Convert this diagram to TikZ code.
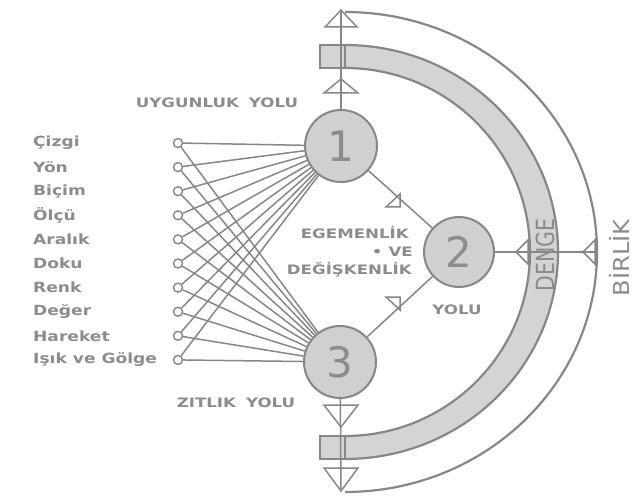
\documentclass[tikz,border=0pt]{standalone}
\usepackage{fontspec}
\newfontfamily\wfont{DejaVu Sans}[FakeStretch=1.28]
\newfontfamily\lfont{DejaVu Sans}[FakeStretch=1.22]
\newfontfamily\nfont{DejaVu Sans}
\definecolor{lg}{RGB}{135,135,135}
\definecolor{tg}{RGB}{140,140,140}
\definecolor{bf}{RGB}{212,212,212}
\definecolor{cf}{RGB}{208,208,208}
\begin{document}
\begin{tikzpicture}[x=1pt,y=-1pt,
  conn/.style={draw=lg, line width=1.5pt},
  arcline/.style={draw=lg, line width=2.2pt},
  bignode/.style={circle, draw=lg, line width=2pt, fill=cf, minimum size=72pt, inner sep=0pt, text=tg, font=\nfont\fontsize{42}{42}\selectfont},
  dotnode/.style={circle, draw=lg, line width=1.4pt, fill=white, minimum size=9pt, inner sep=0pt},
  labtext/.style={anchor=west, text=tg, inner sep=0pt, font=\lfont\bfseries\fontsize{14}{16}\selectfont},
  captext/.style={text=tg, inner sep=0pt, font=\wfont\bfseries\fontsize{13}{15}\selectfont},
  bigtext/.style={text=tg, inner sep=0pt, rotate=90, font=\nfont\fontsize{25}{25}\selectfont},
  trimark/.style={draw=lg, line width=1.5pt, line join=miter},
  boxst/.style={draw=lg, line width=1.8pt, fill=bf},
]
\useasboundingbox (0,0) rectangle (635,500);
\fill[white] (0,0) rectangle (635,500);
% band DENGE
\fill[bf] (345,45) arc[start angle=90,end angle=-90,x radius=213pt,y radius=207pt]
  -- (345,436) arc[start angle=-90,end angle=90,x radius=185pt,y radius=184pt] -- cycle;
\draw[arcline] (345,45) arc[start angle=90,end angle=-90,x radius=213pt,y radius=207pt];
\draw[arcline] (345,68) arc[start angle=90,end angle=-90,x radius=185pt,y radius=184pt];
% outer arc BIRLIK
\draw[arcline] (345,12) arc[start angle=90,end angle=-90,x radius=252pt,y radius=240pt];
\coordinate (arcE) at (597,252);
\coordinate (topC) at (341,10);
\coordinate (botC) at (341,491);
% band end boxes
\draw[boxst] (320,45) rectangle (345,68);
\draw[boxst] (320,436) rectangle (345,459);
% main nodes
\node[bignode] (n1) at (341,146) {1};
\node[bignode, minimum size=70pt] (n2) at (459,252) {2};
\node[bignode] (n3) at (340,362) {3};
% list
\foreach \t [count=\i, evaluate=\i as \yy using 143+24.1*(\i-1)] in {Çizgi,Yön,Biçim,Ölçü,Aralık,Doku,Renk,Değer,Hareket,Işık ve Gölge}{
  \node[labtext] (l\i) at (33,\yy) {\t};
  \node[dotnode] (s\i) at (178,\yy) {};
}
\foreach \i in {1,...,10}{
  \draw[conn] (s\i) -- (n1);
  \draw[conn] (s\i) -- (n3);
}
% connectors between main nodes
\draw[conn] (n1) -- (n2);
\draw[conn] (n2) -- (n3);
\draw[conn] (n2) -- (arcE);
\draw[conn] (n1) -- (topC);
\draw[conn] (n3) -- (botC);
% markers
\draw[trimark] (341,10) -- (357,27) -- (325,27) -- cycle;
\draw[trimark] (341,79) -- (358,93) -- (324,93) -- cycle;
\draw[trimark] (324,405) -- (358,405) -- (341,427) -- cycle;
\draw[trimark] (324,468) -- (358,468) -- (341,491) -- cycle;
\draw[trimark] (386,207) -- (400,207) -- (400,194) -- cycle;
\draw[trimark] (386,297) -- (400,297) -- (400,310) -- cycle;
\draw[trimark] (516,252) -- (528,240) -- (528,264) -- cycle;
\draw[trimark] (583,252) -- (595,240) -- (595,264) -- cycle;
% texts
\node[captext] (t1) at (217,103) {UYGUNLUK\hspace{10pt}YOLU};
\node[captext] (t2) at (236,403) {ZITLIK\hspace{10pt}YOLU};
\node[captext, anchor=east] (t3) at (409,233) {EGEMENLİK};
\node[captext, anchor=east] (t4) at (413,252) {•\hspace{6pt}VE};
\node[captext, anchor=east] (t5) at (412,270) {DEĞİŞKENLİK};
\node[captext] (t6) at (457,310) {YOLU};
\node[bigtext] (t7) at (545,255) {\scalebox{0.82}[1]{DENGE}};
\node[bigtext, font=\nfont\fontsize{22}{22}\selectfont] (t8) at (619,258) {\scalebox{1.1}[1]{BİRLİK}};
\end{tikzpicture}
\end{document}
